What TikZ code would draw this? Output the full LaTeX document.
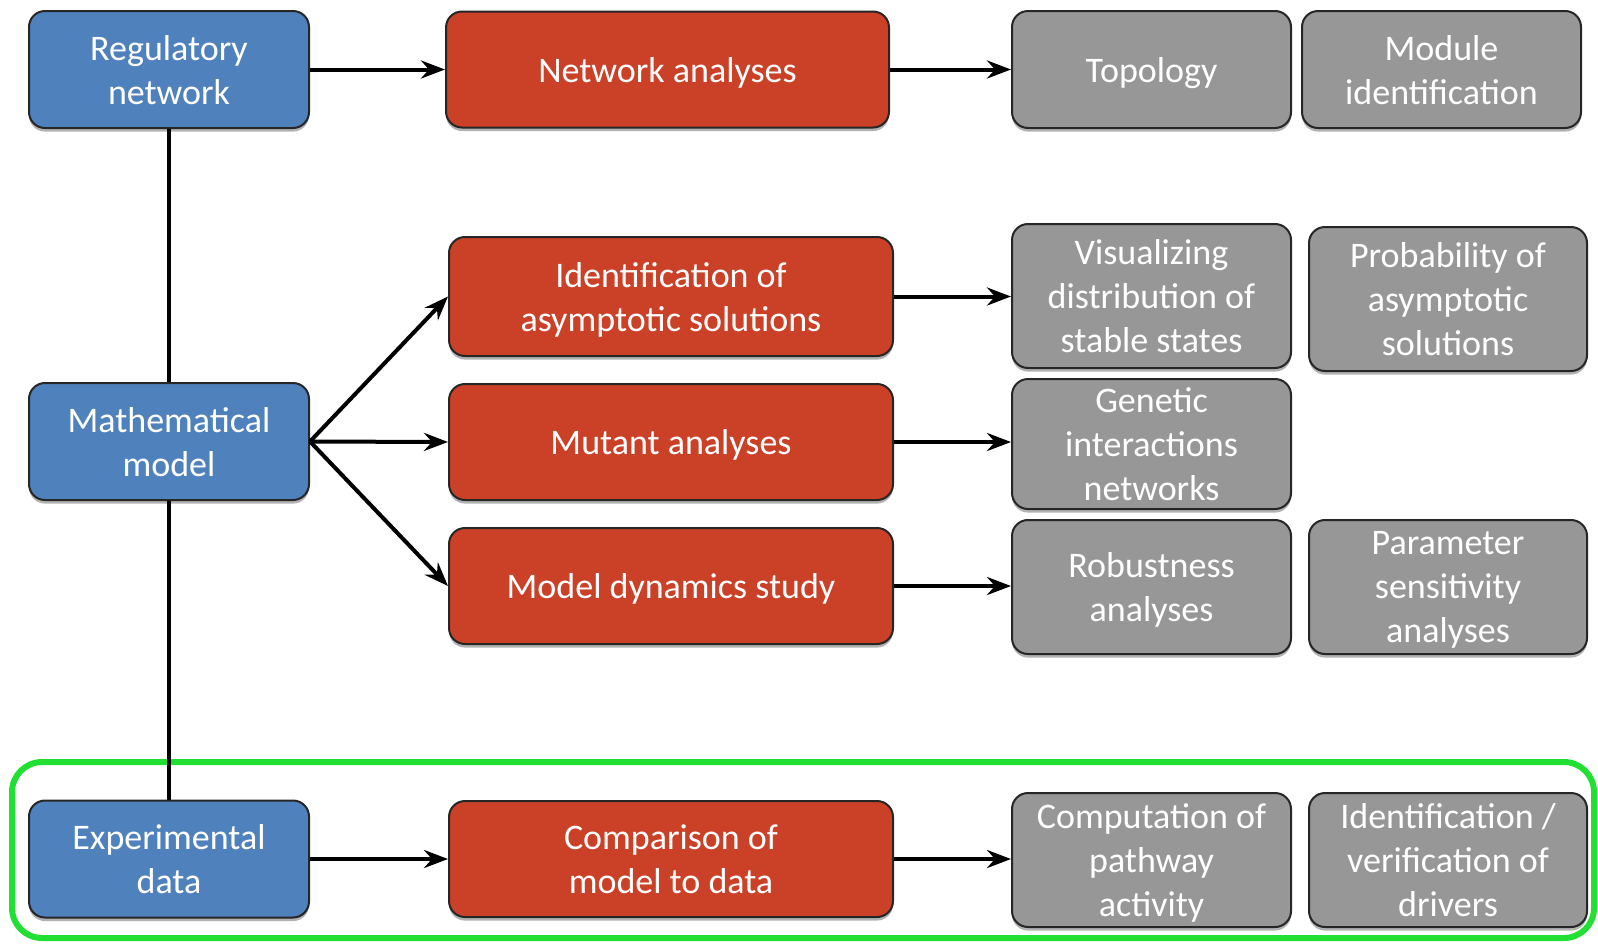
\documentclass[tikz,border=0pt]{standalone}
\usepackage{fontspec}
\setmainfont{Carlito}
\usetikzlibrary{shadows,arrows.meta}
\definecolor{bblue}{HTML}{4F81BD}
\definecolor{rred}{HTML}{CA4127}
\definecolor{ggray}{HTML}{979797}
\definecolor{ggreen}{HTML}{22E033}
\begin{document}
\begin{tikzpicture}[x=0.5pt,y=-0.5pt,
  box/.style={draw=black!85, line width=1pt, rounded corners=8pt, text=white, align=center, inner sep=0pt,
    text depth=0pt,
    font=\fontsize{18}{22}\selectfont,
    drop shadow={shadow xshift=0pt, shadow yshift=-1.8pt, opacity=0.3, fill=black}},
  bluebox/.style={box, fill=bblue, minimum width=140pt, minimum height=58.5pt},
  redbox/.style={box, fill=rred, minimum width=222pt, minimum height=58pt},
  graybox/.style={box, fill=ggray, minimum width=139.5pt},
  arr/.style={line width=2pt, -{Stealth[length=12pt,width=9pt,inset=4pt]}},
  link/.style={line width=2pt}]
\useasboundingbox (0,0) rectangle (1598,943);
\draw[ggreen, line width=3pt, rounded corners=15pt] (12,762) rectangle (1594,938);
% blue
\node[bluebox] (reg) at (169,69.5) {Regulatory\\network};
\node[bluebox] (math) at (169,441.5) {Mathematical\\model};
\node[bluebox] (exp) at (169,859) {Experimental\\data};
% red
\node[redbox, minimum width=221.5pt] (net) at (667.5,69.5) {Network analyses};
\node[redbox, minimum height=59.5pt] (ident) at (671,296.5) {Identification of\\asymptotic solutions};
\node[redbox] (mut) at (671,442) {Mutant analyses};
\node[redbox] (dyn) at (671,586) {Model dynamics study};
\node[redbox] (cmp) at (671,859) {Comparison of\\model to data};
% gray
\node[graybox, minimum height=58.5pt] (topo) at (1151.5,69.5) {Topology};
\node[graybox, minimum height=58.5pt] (mod) at (1441.5,69.5) {Module\\identification};
\node[graybox, minimum height=72pt] (vis) at (1151.5,296) {Visualizing\\distribution of\\stable states};
\node[graybox, minimum height=72pt, minimum width=139pt] (prob) at (1448,299) {Probability of\\asymptotic\\solutions};
\node[graybox, minimum height=65pt] (gen) at (1151.5,444) {Genetic\\interactions\\networks};
\node[graybox, minimum height=67pt] (rob) at (1151.5,587) {Robustness\\analyses};
\node[graybox, minimum height=67pt, minimum width=139pt] (par) at (1448,587) {Parameter\\sensitivity\\analyses};
\node[graybox, minimum height=67pt] (cpa) at (1151.5,860) {Computation of\\pathway\\activity};
\node[graybox, minimum height=67pt, minimum width=139pt] (idv) at (1448,860) {Identification /\\verification of\\drivers};
% links
\draw[link] (reg.south) -- (math.north);
\draw[link] (math.south) -- (exp.north);
\draw[arr] (reg.east) -- (net.west);
\draw[arr] (net.east) -- (topo.west);
\draw[arr] (math.east) -- (ident.west);
\draw[arr] (math.east) -- (mut.west);
\draw[arr] (math.east) -- (dyn.west);
\draw[arr] (ident.east) -- (ident.east -| vis.west);
\draw[arr] (mut.east) -- (mut.east -| gen.west);
\draw[arr] (dyn.east) -- (dyn.east -| rob.west);
\draw[arr] (exp.east) -- (cmp.west);
\draw[arr] (cmp.east) -- (cmp.east -| cpa.west);
\end{tikzpicture}
\end{document}
